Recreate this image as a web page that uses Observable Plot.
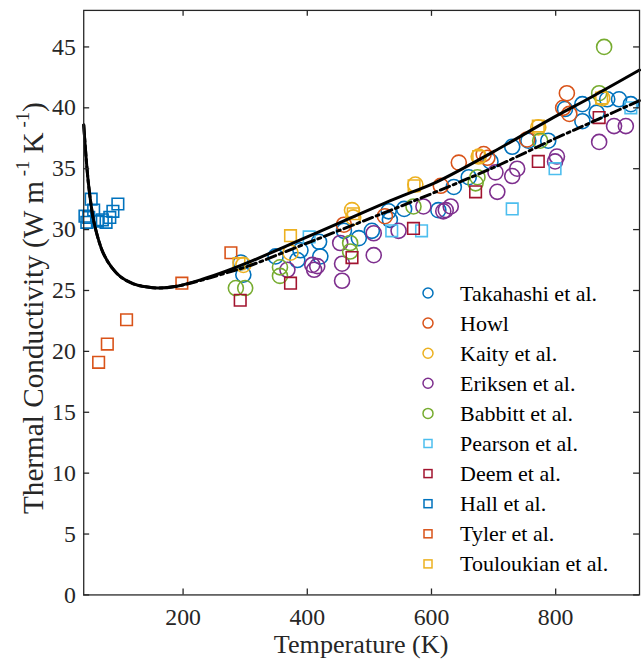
<!DOCTYPE html>
<html><head><meta charset="utf-8">
<script src="https://cdn.jsdelivr.net/npm/d3@7"></script>
<script src="https://cdn.jsdelivr.net/npm/@observablehq/plot@0.6"></script>
<style>
body{margin:0;background:#fff;}
#wrap{position:relative;width:642px;height:667px;overflow:hidden;font-family:"Liberation Serif",serif;}
#wrap svg, #wrap svg text, #wrap svg g{font-family:"Liberation Serif",serif !important;}
#legend{position:absolute;left:416px;top:278px;}
</style></head><body><div id="wrap"><div id="legend"></div></div>
<script>
// ---- data (T in K, k in W m^-1 K^-1) ----
const takahashiT = [293,297,349,384,389,419,421,459,483,504,531,533,556,611,636,660,695,730,756,788,815,843,843,866,883,902,921];
const takahashiK = [27.3,26.3,27.8,27.5,28.3,29.0,27.8,29.9,29.3,29.9,31.5,30.8,31.7,31.6,33.5,34.3,35.6,36.8,37.3,37.3,39.9,40.3,38.9,39.6,40.7,40.7,40.3];
const howlT = [459,525,615,644,684,690,754,812,818,822];
const howlK = [30.4,31.1,33.6,35.5,36.2,35.9,37.4,40.0,41.2,39.5];
const kaityT = [297,373,472,474,574,676,772,875];
const kaityK = [27.1,28.1,31.6,31.0,33.7,36.0,38.4,40.8];
const eriksenT = [368,408,411,416,456,456,453,507,507,547,587,623,619,631,703,706,730,738,802,799,870,894,913];
const eriksenK = [26.7,27.1,26.7,27.0,25.8,27.2,28.9,27.9,29.7,29.9,31.9,31.6,31.5,31.9,34.7,33.1,34.4,35.0,36.0,35.6,37.2,38.5,38.5];
const babbittT = [285,300,356,356,469,469,571,671,674,775,870,878];
const babbittK = [25.2,25.2,26.9,26.2,28.9,28.2,31.9,33.8,34.3,37.3,41.2,45.0];
const pearsonT = [403,536,584,730,799,921];
const pearsonK = [29.4,29.9,29.9,31.7,35.0,40.0];
const deemT = [292,373,472,571,671,772,870];
const deemK = [24.2,25.6,27.7,30.1,33.1,35.6,39.2];
const hallT = [42,45,48,52,56,62,70,76,82,87,95];
const hallK = [31.1,30.6,31.0,32.5,31.6,30.7,30.8,30.6,31.0,31.5,32.1];
const tylerT = [64,78,109,198,277];
const tylerK = [19.1,20.6,22.6,25.6,28.1];
const toulT = [290,373,474,572,676,772,874];
const toulK = [27.2,29.5,31.3,33.6,36.0,38.5,40.8];

// model curves
const solidT = [40,44,48,55,63,72,85,100,120,140,160,190,230,270,305,400,540,608,700,791,860,935];
const solidK = [38.6,35.8,33.6,31.0,29.3,28.0,26.9,26.1,25.55,25.3,25.2,25.35,25.9,26.6,27.3,29.4,32.5,33.9,36.4,39.05,40.95,43.1];
const dashT = [40,44,48,55,63,72,85,100,120,140,160,190,230,270,305,400,500,581,700,800,868,935];
const dashK = [38.6,35.8,33.6,31.0,29.3,28.0,26.9,26.1,25.55,25.3,25.2,25.35,25.85,26.45,27.0,28.9,30.9,32.55,35.1,37.5,39.05,40.6];

const xTicks = [200,400,600,800];
const yTicks = [0,5,10,15,20,25,30,35,40,45];

const seriesNames = ["Takahashi et al.","Howl","Kaity et al.","Eriksen et al.","Babbitt et al.","Pearson et al.","Deem et al.","Hall et al.","Tyler et al.","Touloukian et al."];
const seriesColors = ["#0072BD","#D95319","#EDB120","#7E2F8E","#77AC30","#4DBEEE","#A2142F","#0072BD","#D95319","#EDB120"];
const seriesSymbols = ["circle","circle","circle","circle","circle","square","square","square","square","square"];
const seriesT = [takahashiT,howlT,kaityT,eriksenT,babbittT,pearsonT,deemT,hallT,tylerT,toulT];
const seriesK = [takahashiK,howlK,kaityK,eriksenK,babbittK,pearsonK,deemK,hallK,tylerK,toulK];

// ---- build tables ----
const rows = seriesNames.flatMap((name,i)=>seriesT[i].map((t,j)=>({T:t,k:seriesK[i][j],name,color:seriesColors[i],symbol:seriesSymbols[i]})));
const circles = rows.filter(d=>d.symbol==="circle");
const squares = rows.filter(d=>d.symbol==="square");
const solid = solidT.map((t,i)=>({T:t,k:solidK[i]}));
const dash = dashT.map((t,i)=>({T:t,k:dashK[i]}));

const W=648,H=667,mL=84,mR=3,mT=10,mB=67;
const pw=W-mL-mR, ph=H-mT-mB;
const axisColor="#262626";
const serif = "Liberation Serif, serif";

const chart = Plot.plot({
  width:W,height:H,marginLeft:mL,marginRight:mR,marginTop:mT,marginBottom:mB,
  x:{domain:[40,935]},
  y:{domain:[0,48]},
  color:{type:"identity"},
  style:{fontFamily:serif,fontSize:"24px",color:axisColor,background:"transparent",overflow:"visible"},
  marks:[
    Plot.dot(circles,{x:"T",y:"k",r:7.6,stroke:"color",strokeWidth:1.6,symbol:"circle"}),
    Plot.dot(squares,{x:"T",y:"k",r:6.6,stroke:"color",strokeWidth:1.6,symbol:"square"}),
    Plot.line(dash,{x:"T",y:"k",stroke:"black",strokeWidth:3,curve:"catmull-rom",strokeDasharray:"10,4,3,4"}),
    Plot.line(solid,{x:"T",y:"k",stroke:"black",strokeWidth:3,curve:"catmull-rom"}),
    Plot.frame({stroke:axisColor,strokeWidth:1.3}),
    Plot.tickX(xTicks,{x:d=>d,insetTop:ph-6,stroke:axisColor,strokeWidth:1.3}),
    Plot.tickX(xTicks,{x:d=>d,insetBottom:ph-6,stroke:axisColor,strokeWidth:1.3}),
    Plot.tickY(yTicks,{y:d=>d,insetRight:pw-6,stroke:axisColor,strokeWidth:1.3}),
    Plot.tickY(yTicks,{y:d=>d,insetLeft:pw-6,stroke:axisColor,strokeWidth:1.3}),
    Plot.axisX(xTicks,{tickSize:0,tickPadding:13,fontSize:24,fontFamily:serif,label:null}),
    Plot.axisY(yTicks,{tickSize:0,tickPadding:8,fontSize:24,fontFamily:serif,label:null})
  ]
});
document.getElementById("wrap").prepend(chart);

// axis titles
const svg = d3.select(chart);
svg.append("text")
  .attr("x",(mL+W-mR)/2).attr("y",659)
  .attr("text-anchor","middle").attr("font-size",26.4).attr("fill",axisColor)
  .text("Temperature (K)");
const yl = svg.append("text")
  .attr("transform",`translate(33,311) rotate(-90)`)
  .attr("text-anchor","middle").attr("dominant-baseline","central")
  .attr("font-size",29.5).attr("fill",axisColor);
yl.append("tspan").text("Thermal Conductivity (W m");
yl.append("tspan").attr("dy",-11).attr("font-size",19).text(" -1");
yl.append("tspan").attr("dy",11).text(" K");
yl.append("tspan").attr("dy",-11).attr("font-size",19).text(" -1");
yl.append("tspan").attr("dy",11).text(")");

// legend
const lg = d3.select("#legend").append("svg").attr("width",226).attr("height",310);
seriesNames.forEach((name,i)=>{
  const cy = 15 + i*30.1;
  if(seriesSymbols[i]==="circle"){
    lg.append("circle").attr("cx",12).attr("cy",cy).attr("r",5).attr("fill","none").attr("stroke",seriesColors[i]).attr("stroke-width",1.5);
  } else {
    lg.append("rect").attr("x",8).attr("y",cy-4).attr("width",8).attr("height",8).attr("fill","none").attr("stroke",seriesColors[i]).attr("stroke-width",1.5);
  }
  lg.append("text").attr("x",44).attr("y",cy).attr("dominant-baseline","central")
    .attr("font-size",22).attr("fill","#000").text(name);
});
</script></body></html>
